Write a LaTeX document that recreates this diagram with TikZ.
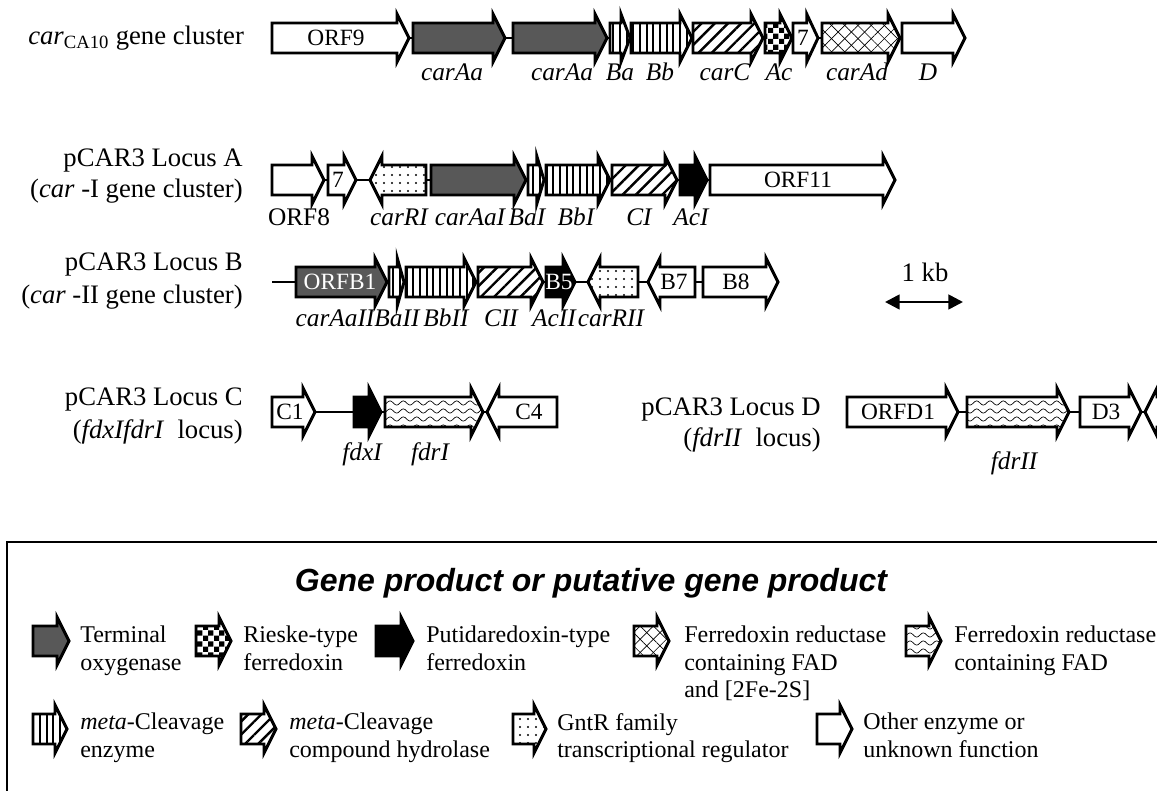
\documentclass[tikz,border=0pt]{standalone}
\usepackage{fontspec}
\setmainfont{Liberation Serif}
\newfontfamily\arialfont{Liberation Sans}
\usetikzlibrary{arrows.meta,patterns,patterns.meta}

\definecolor{oxygray}{HTML}{585858}

% coarse checkerboard for the Rieske-type ferredoxin
\pgfdeclarepatternformonly{bigchecker}{\pgfpointorigin}{\pgfqpoint{8pt}{8pt}}{\pgfqpoint{8pt}{8pt}}{%
  \pgfpathrectangle{\pgfpointorigin}{\pgfqpoint{4pt}{4pt}}%
  \pgfpathrectangle{\pgfqpoint{4pt}{4pt}}{\pgfqpoint{4pt}{4pt}}%
  \pgfusepath{fill}}
% wavy lines for the FAD ferredoxin reductase
\pgfdeclarepatternformonly{wavy}{\pgfqpoint{-1pt}{-1pt}}{\pgfqpoint{11pt}{7pt}}{\pgfqpoint{10pt}{6pt}}{%
  \pgfsetlinewidth{0.5pt}%
  \pgfpathmoveto{\pgfqpoint{0pt}{3pt}}%
  \pgfpathsine{\pgfqpoint{2.5pt}{1.6pt}}%
  \pgfpathcosine{\pgfqpoint{2.5pt}{-1.6pt}}%
  \pgfpathsine{\pgfqpoint{2.5pt}{-1.6pt}}%
  \pgfpathcosine{\pgfqpoint{2.5pt}{1.6pt}}%
  \pgfusepath{stroke}}

% gene arrows: [kind]{start}{tip}{row y}
\newcommand{\fwdgene}[4][other]{%
  \pgfmathsetmacro{\headlen}{min(12,0.45*(#3-#2))}
  \draw[gene,#1] (#2,#4-15) -- (#3-\headlen,#4-15) -- (#3-\headlen,#4-24) -- (#3,#4)
    -- (#3-\headlen,#4+24) -- (#3-\headlen,#4+15) -- (#2,#4+15) -- cycle;}
% reverse genes: [kind]{tip}{end}{row y}
\newcommand{\revgene}[4][other]{%
  \pgfmathsetmacro{\headlen}{min(12,0.45*(#3-#2))}
  \draw[gene,#1] (#3,#4-15) -- (#2+\headlen,#4-15) -- (#2+\headlen,#4-24) -- (#2,#4)
    -- (#2+\headlen,#4+24) -- (#2+\headlen,#4+15) -- (#3,#4+15) -- cycle;}

\begin{document}
\begin{tikzpicture}[
  x=0.75pt, y=-0.75pt,
  gene/.style={line width=2.2pt, preaction={fill=white}},
  other/.style={},
  oxy/.style={fill=oxygray},
  puti/.style={fill=black},
  rieske/.style={pattern=bigchecker},
  fadfe/.style={preaction={pattern={Lines[angle=45,distance=7pt,line width=0.5pt]}},
    pattern={Lines[angle=-45,distance=7pt,line width=0.5pt]}},
  fad/.style={pattern=wavy},
  mce/.style={pattern={Lines[angle=90,distance=5pt,line width=1.4pt]}},
  hyd/.style={pattern={Lines[angle=45,distance=7pt,line width=1.8pt]}},
  gntr/.style={pattern={Dots[distance=6pt,radius=0.9pt]}},
  backbone/.style={line width=2pt},
  rowlbl/.style={font=\fontsize{20}{23}\selectfont, inner sep=0pt},
  genelbl/.style={font=\fontsize{19}{22}\selectfont\itshape, inner sep=0pt},
  orflbl/.style={font=\fontsize{19}{22}\selectfont, inner sep=0pt},
  inlbl/.style={font=\fontsize{17.5}{20}\selectfont, inner sep=0pt},
  leglbl/.style={font=\fontsize{18}{20.5}\selectfont, align=left, anchor=north west, inner sep=0pt}
]
\useasboundingbox (0,0) rectangle (1157,791);
\clip (0,0) rectangle (1157,791);

% car_CA10 gene cluster
\node[rowlbl, anchor=west] (rowCA) at (28,38) {\textit{car}\textsubscript{CA10} gene cluster};
\draw[backbone] (272,38) -- (965,38);
\fwdgene{272}{409}{38}
\fwdgene[oxy]{413}{505}{38}
\fwdgene[oxy]{513}{607}{38}
\fwdgene[mce]{610}{630}{38}
\fwdgene[mce]{631}{692}{38}
\fwdgene[hyd]{693}{763}{38}
\fwdgene[rieske]{765}{792}{38}
\fwdgene{793}{818}{38}
\fwdgene[fadfe]{822}{900}{38}
\fwdgene{902}{965}{38}
\node[inlbl] (tORF9) at (336,38) {ORF9};
\node[inlbl] (tSeven) at (803,38) {7};
\node[genelbl] (tcarAa) at (452,72) {carAa};
\node[genelbl] (tcarAb) at (562,72) {carAa};
\node[genelbl] (tBa) at (620,72) {Ba};
\node[genelbl] (tBb) at (660,72) {Bb};
\node[genelbl] (tcarC) at (725,72) {carC};
\node[genelbl] (tAc) at (779,72) {Ac};
\node[genelbl] (tcarAd) at (857,72) {carAd};
\node[genelbl] (tD) at (928,72) {D};

% pCAR3 locus A
\node[rowlbl, anchor=east] (rowA) at (243,161) {pCAR3 Locus A};
\node[rowlbl, anchor=east] (rowAsub) at (243,191) {(\textit{car} -I gene cluster)};
\draw[backbone] (272,180) -- (895,180);
\fwdgene{272}{324}{180}
\fwdgene{328}{356}{180}
\revgene[gntr]{370}{426}{180}
\fwdgene[oxy]{431}{526}{180}
\fwdgene[mce]{528}{544}{180}
\fwdgene[mce]{546}{610}{180}
\fwdgene[hyd]{612}{677}{180}
\fwdgene[puti]{680}{707}{180}
\fwdgene{710}{895}{180}
\node[inlbl] (tSevenA) at (338,180) {7};
\node[inlbl] (tORF11) at (798,180) {ORF11};
\node[orflbl] (tORF8) at (299,217) {ORF8};
\node[genelbl] (tcarRI) at (399,217) {carRI};
\node[genelbl] (tcarAaI) at (470,217) {carAaI};
\node[genelbl] (tBaI) at (527,217) {BaI};
\node[genelbl] (tBbI) at (576,217) {BbI};
\node[genelbl] (tCI) at (639,217) {CI};
\node[genelbl] (tAcI) at (691,217) {AcI};

% pCAR3 locus B
\node[rowlbl, anchor=east] (rowB) at (243,265) {pCAR3 Locus B};
\node[rowlbl, anchor=east] (rowBsub) at (243,297) {(\textit{car} -II gene cluster)};
\draw[backbone] (272,282) -- (778,282);
\fwdgene[oxy]{296}{387}{282}
\fwdgene[mce]{389}{404}{282}
\fwdgene[mce]{406}{476}{282}
\fwdgene[hyd]{478}{543}{282}
\fwdgene[puti]{546}{575}{282}
\revgene[gntr]{588}{638}{282}
\revgene{648}{695}{282}
\fwdgene{703}{778}{282}
\node[inlbl, text=white] (tORFB1) at (340,282) {ORFB1};
\node[inlbl, text=white] (tB5) at (559,282) {B5};
\node[inlbl] (tB7) at (674,282) {B7};
\node[inlbl] (tB8) at (736,282) {B8};
\node[genelbl] (tcarAaII) at (335,318) {carAaII};
\node[genelbl] (tBaII) at (397,318) {BaII};
\node[genelbl] (tBbII) at (446,318) {BbII};
\node[genelbl] (tCII) at (501,318) {CII};
\node[genelbl] (tAcII) at (554,318) {AcII};
\node[genelbl] (tcarRII) at (611,318) {carRII};

% scale bar
\node[rowlbl] (kb) at (925,272) {1 kb};
\coordinate (kbL) at (885,302);
\coordinate (kbR) at (963,302);
\draw[line width=2pt, {Triangle[length=11pt,width=11pt]}-{Triangle[length=11pt,width=11pt]}] (kbL) -- (kbR);

% pCAR3 locus C
\node[rowlbl, anchor=east] (rowC) at (243,400) {pCAR3 Locus C};
\node[rowlbl, anchor=east] (rowCsub) at (243,432) {(\textit{fdxIfdrI}\ \ locus)};
\draw[backbone] (272,412) -- (557,412);
\fwdgene{272}{315}{412}
\fwdgene[puti]{354}{381}{412}
\fwdgene[fad]{385}{483}{412}
\revgene{487}{557}{412}
\node[inlbl] (tC1) at (290,412) {C1};
\node[inlbl] (tC4) at (529,412) {C4};
\node[genelbl] (tfdxI) at (362,454) {fdxI};
\node[genelbl] (tfdrI) at (430,454) {fdrI};

% pCAR3 locus D
\node[rowlbl, anchor=east] (rowD) at (821,410) {pCAR3 Locus D};
\node[rowlbl, anchor=east] (rowDsub) at (821,440) {(\textit{fdrII}\ \ locus)};
\draw[backbone] (847,412) -- (1170,412);
\fwdgene{847}{958}{412}
\fwdgene[fad]{967}{1069}{412}
\fwdgene{1080}{1141}{412}
\revgene{1145}{1200}{412}
\node[inlbl] (tORFD1) at (898,412) {ORFD1};
\node[inlbl] (tD3) at (1106,412) {D3};
\node[genelbl] (tfdrII) at (1014,463) {fdrII};

% legend
\draw[line width=1.5pt] (7,542) rectangle (1175,810);
\node[font=\arialfont\bfseries\itshape\fontsize{24}{28}\selectfont] (legTitle) at (591,583)
  {Gene product or putative gene product};
\fwdgene[oxy]{33}{69}{641}
\node[leglbl] (legOxy) at (80,626) {Terminal\\oxygenase};
\fwdgene[rieske]{196}{231}{641}
\node[leglbl] (legRieske) at (243,626) {Rieske-type\\ferredoxin};
\fwdgene[puti]{376}{413}{641}
\node[leglbl] (legPuti) at (426,626) {Putidaredoxin-type\\ferredoxin};
\fwdgene[fadfe]{634}{669}{641}
\node[leglbl] (legFadFe) at (684,626) {Ferredoxin reductase\\containing FAD\\and [2Fe-2S]};
\fwdgene[fad]{906}{941}{641}
\node[leglbl] (legFad) at (954,626) {Ferredoxin reductase\\containing FAD};
\fwdgene[mce]{33}{67}{729}
\node[leglbl] (legMce) at (80,713) {\textit{meta}-Cleavage\\enzyme};
\fwdgene[hyd]{241}{276}{729}
\node[leglbl] (legHyd) at (289,713) {\textit{meta}-Cleavage\\compound hydrolase};
\fwdgene[gntr]{513}{546}{729}
\node[leglbl] (legGntr) at (557,713) {GntR family\\transcriptional regulator};
\fwdgene{817}{852}{729}
\node[leglbl] (legOther) at (863,713) {Other enzyme or\\unknown function};
\end{tikzpicture}
\end{document}
